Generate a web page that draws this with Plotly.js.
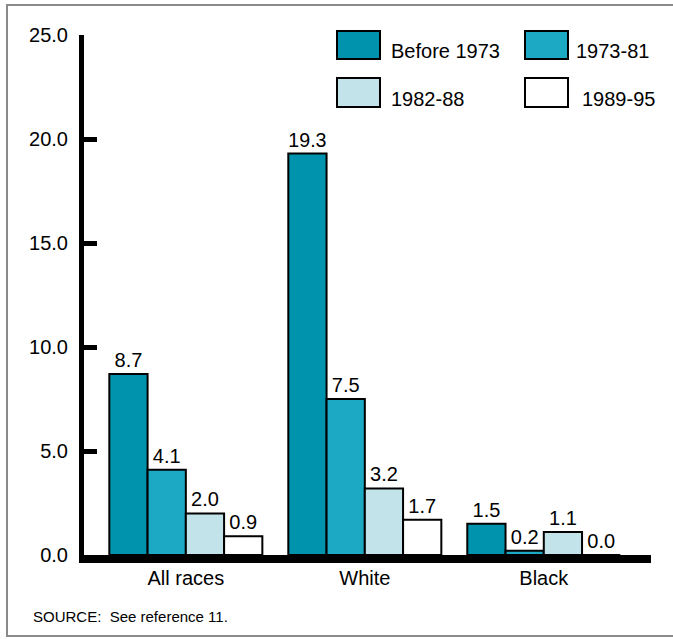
<!DOCTYPE html>
<html>
<head>
<meta charset="utf-8">
<script src="https://cdn.plot.ly/plotly-3.0.1.min.js"></script>
<style>
  html, body { margin: 0; padding: 0; background: #ffffff; }
  #chart { width: 673px; height: 639px; }
</style>
</head>
<body>
<div id="chart"></div>
<script>
// ---- data ----
const categories = ['All races', 'White', 'Black'];
const seriesNames = ['Before 1973', '1973-81', '1982-88', '1989-95'];
const before1973 = [8.7, 19.3, 1.5];
const y1973to81 = [4.1, 7.5, 0.2];
const y1982to88 = [2.0, 3.2, 1.1];
const y1989to95 = [0.9, 1.7, 0.0];
const yTickVals = [0, 5, 10, 15, 20, 25];
const sourceNote = 'SOURCE:  See reference 11.';

// ---- style ----
const seriesValues = [before1973, y1973to81, y1982to88, y1989to95];
const seriesColors = ['#0093ae', '#1ba9c3', '#c3e3eb', '#ffffff'];
const FONT = 'Liberation Sans, Arial, Helvetica, sans-serif';
const FS = 20;

const M = { l: 84, r: 22, t: 35, b: 84 };
const W = 673, H = 639;
const PW = W - M.l - M.r, PH = H - M.t - M.b;
const px = x => (x - M.l) / PW;
const py = y => (M.t + PH - y) / PH;

const traces = seriesNames.map((name, i) => ({
  type: 'bar',
  name: name,
  x: categories,
  y: seriesValues[i],
  marker: { color: seriesColors[i], line: { color: '#000000', width: 2 } },
  texttemplate: '%{y:.1f}',
  textposition: 'outside',
  textfont: { family: FONT, size: FS, color: '#000000' },
  cliponaxis: false,
  hoverinfo: 'skip',
  showlegend: false
}));

// custom legend (2 x 2 grid with large boxes)
const legBoxX = [[337, 380], [525, 568]];
const legBoxY = [[31, 59], [78, 107]];
const legTextX = [[389, 574], [389, 580]];
const legTextY = [51, 99];

const shapes = [];
const annotations = [];
seriesNames.forEach((name, i) => {
  const row = Math.floor(i / 2), col = i % 2;
  shapes.push({
    type: 'rect', xref: 'paper', yref: 'paper',
    x0: px(legBoxX[col][0]), x1: px(legBoxX[col][1]),
    y0: py(legBoxY[row][1]), y1: py(legBoxY[row][0]),
    fillcolor: seriesColors[i], line: { color: '#000000', width: 2 }
  });
  annotations.push({
    xref: 'paper', yref: 'paper',
    x: px(legTextX[row][col]), y: py(legTextY[row]),
    xanchor: 'left', yanchor: 'middle', showarrow: false,
    text: name, font: { family: FONT, size: FS, color: '#000000' }
  });
});

// figure frame
shapes.push({
  type: 'rect', xref: 'paper', yref: 'paper', layer: 'below',
  x0: px(7), x1: px(700), y0: py(636), y1: py(5),
  line: { color: '#8a8a8a', width: 2 }, fillcolor: 'rgba(0,0,0,0)'
});

annotations.push({
  xref: 'paper', yref: 'paper',
  x: px(31), y: py(616),
  xanchor: 'left', yanchor: 'middle', showarrow: false,
  text: sourceNote, font: { family: FONT, size: 15, color: '#000000' }
});

const layout = {
  width: W, height: H,
  margin: M,
  paper_bgcolor: '#ffffff',
  plot_bgcolor: '#ffffff',
  font: { family: FONT, size: FS, color: '#000000' },
  barmode: 'group',
  bargap: 0.145,
  bargroupgap: 0,
  showlegend: false,
  xaxis: {
    type: 'category',
    range: [-0.569, 2.599],
    showline: true, linewidth: 8, linecolor: '#000000',
    ticks: '', showgrid: false, zeroline: false,
    ticklabelstandoff: -2,
    tickfont: { family: FONT, size: FS, color: '#000000' },
    fixedrange: true
  },
  yaxis: {
    range: [0, 25],
    tickvals: yTickVals,
    ticktext: yTickVals.map(v => v.toFixed(1)),
    ticks: 'inside', ticklen: 13, tickwidth: 5, tickcolor: '#000000',
    showline: true, linewidth: 5, linecolor: '#000000',
    showgrid: false, zeroline: false,
    ticklabelstandoff: 7,
    tickfont: { family: FONT, size: FS, color: '#000000' },
    fixedrange: true
  },
  shapes: shapes,
  annotations: annotations
};

Plotly.newPlot('chart', traces, layout, { displayModeBar: false, staticPlot: true });
</script>
</body>
</html>
